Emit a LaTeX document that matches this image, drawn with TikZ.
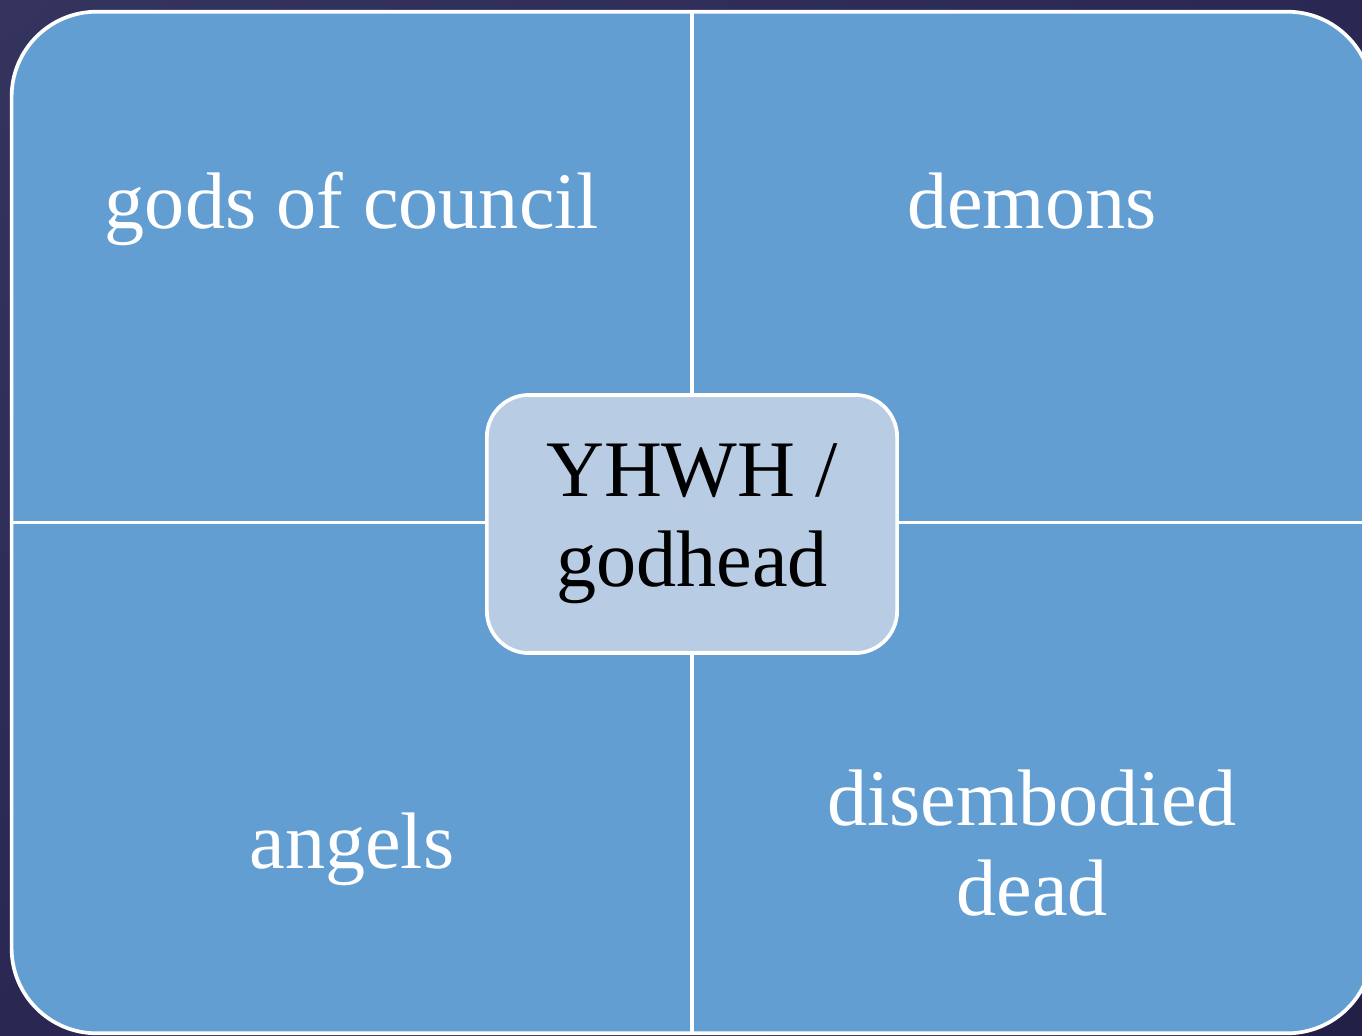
\documentclass[tikz,border=0pt]{standalone}
\usepackage{fontspec}
\setmainfont{Liberation Serif}
\usetikzlibrary{shadings}
\definecolor{bgA}{HTML}{35345F}
\definecolor{bgB}{HTML}{2A2852}
\definecolor{bgC}{HTML}{222047}
\definecolor{quad}{HTML}{629ED1}
\definecolor{core}{HTML}{B8CCE4}
\tikzset{
  px/.style={x=0.01cm,y=-0.01cm},
  quadlabel/.style={text=white,font=\fontsize{22.8}{25.6}\selectfont,align=center,inner sep=0pt},
  divider/.style={draw=white,line width=1.05pt},
}
\begin{document}
\begin{tikzpicture}[px]
\useasboundingbox (0,0) rectangle (1362,1035);
\clip (0,0) rectangle (1362,1035);
\shade[upper left=bgA,upper right=bgB,lower left=bgB,lower right=bgC] (0,0) rectangle (1362,1035);
\node[draw=white,line width=1.05pt,fill=quad,rounded corners=0.85cm,minimum width=13.6cm,minimum height=10.21cm,inner sep=0pt] (outer) at (692,522.5) {};
\node[draw=white,line width=1.05pt,fill=core,rounded corners=0.42cm,minimum width=4.1cm,minimum height=2.58cm,inner sep=0pt,text=black,font=\fontsize{22.8}{25.6}\selectfont,align=center] (core) at (692,524) {YHWH /\\godhead};
\coordinate (hl) at (core.west |- outer.west);
\coordinate (hr) at (core.east |- outer.east);
\draw[divider] (core.north) -- (outer.north);
\draw[divider] (core.south) -- (outer.south);
\draw[divider] (hl) -- (outer.west);
\draw[divider] (hr) -- (outer.east);
\node[quadlabel,anchor=base] (council) at (352,228) {gods of council};
\node[quadlabel,anchor=base] (demons) at (1032,228) {demons};
\node[quadlabel,anchor=base] (angels) at (352,868) {angels};
\node[quadlabel] (dead) at (1032,843) {disembodied\\dead};
\end{tikzpicture}
\end{document}
